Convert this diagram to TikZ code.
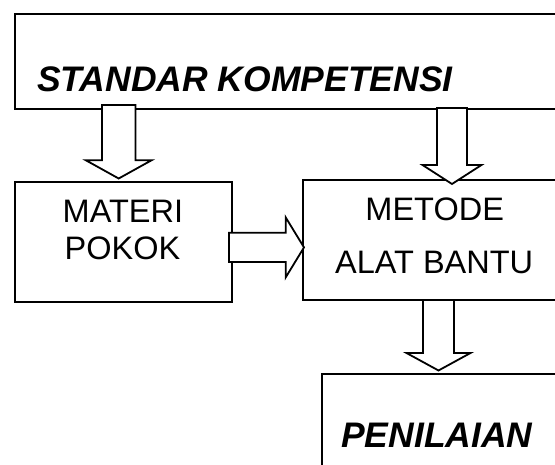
\documentclass[tikz,border=0pt]{standalone}
\usepackage{fontspec}
\setmainfont{Liberation Sans}
\usetikzlibrary{calc}
\tikzset{
  box/.style={draw=black, line width=1.8pt, fill=white, inner sep=0pt, anchor=north west},
  blockarr/.style={draw=black, line width=1.8pt, fill=white, line join=miter},
  lbl/.style={font=\fontsize{32.5}{38}\selectfont, inner sep=0pt, anchor=base},
  ttl/.style={font=\fontsize{35.5}{42}\selectfont\bfseries\itshape, inner sep=0pt, anchor=base west},
}
\newcommand\blockarrow[5]{%
  \coordinate (hb) at ($(#2)!#5!(#1)$);
  \filldraw[blockarr] ($(#1)!#3!90:(#2)$) -- ($(hb)!#3!90:(#2)$) -- ($(hb)!#4!90:(#2)$) -- (#2)
    -- ($(hb)!#4!-90:(#2)$) -- ($(hb)!#3!-90:(#2)$) -- ($(#1)!#3!-90:(#2)$) -- cycle;}
\begin{document}
\begin{tikzpicture}[x=1pt,y=-1pt]
\useasboundingbox (0,0) rectangle (555,465);
\clip (0,0) rectangle (555,465);
\fill[white] (0,0) rectangle (555,465);
% boxes
\node[box, minimum width=620pt, minimum height=95pt] (std) at (14,13.3) {};
\node[box, minimum width=217pt, minimum height=120pt] (materi) at (14,181) {};
\node[box, minimum width=265pt, minimum height=120pt] (metode) at (302,179.3) {};
\node[box, minimum width=260pt, minimum height=140pt] (nilai) at (321,373) {};
% texts
\node[ttl] (stdtxt) at (37,92) {STANDAR KOMPETENSI};
\node[lbl] (mat1) at (122.9,222.5) {MATERI};
\node[lbl] (mat2) at (122.5,259.5) {POKOK};
\node[lbl] (met1) at (434.7,221) {METODE};
\node[lbl] (met2) at (434.2,273.5) {ALAT BANTU};
\node[ttl] (niltxt) at (341,447.5) {PENILAIAN};
% arrow end points
\coordinate (a1s) at (118.7,105);
\coordinate (a1t) at (118.7,178.5);
\coordinate (a2s) at (452,108);
\coordinate (a2t) at (452,184);
\coordinate (a3s) at (438.5,300);
\coordinate (a3t) at (438.5,370.5);
\coordinate (a4s) at (229,247.4);
\coordinate (a4t) at (304,247.4);
% block arrows
\blockarrow{a1s}{a1t}{16.7pt}{33pt}{18.3pt}
\blockarrow{a2s}{a2t}{15pt}{29.5pt}{19pt}
\blockarrow{a3s}{a3t}{15.5pt}{32pt}{17.5pt}
\blockarrow{a4s}{a4t}{14.7pt}{30pt}{18.3pt}
\end{tikzpicture}
\end{document}
